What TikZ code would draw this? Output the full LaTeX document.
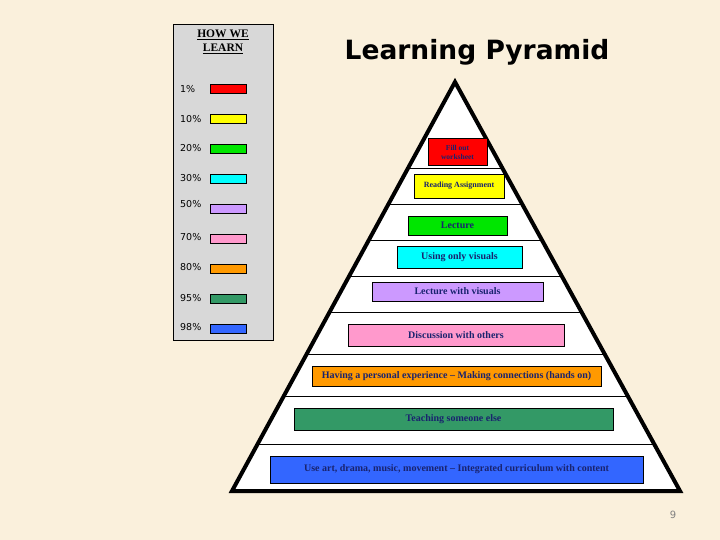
\documentclass[tikz,border=0pt]{standalone}
\usepackage{fontspec}
\setmainfont{Liberation Serif}
\newfontfamily\sansf{DejaVu Sans}
\usetikzlibrary{calc}
\definecolor{bg}{RGB}{250,240,220}
\definecolor{leggray}{RGB}{216,216,216}
\definecolor{txtblue}{RGB}{25,35,110}
\definecolor{cred}{RGB}{255,0,0}
\definecolor{cyellow}{RGB}{255,255,0}
\definecolor{cgreen}{RGB}{0,230,0}
\definecolor{ccyan}{RGB}{0,255,255}
\definecolor{clav}{RGB}{204,153,255}
\definecolor{cpink}{RGB}{255,153,204}
\definecolor{corange}{RGB}{255,153,0}
\definecolor{cteal}{RGB}{51,153,102}
\definecolor{cblue}{RGB}{51,102,255}
\begin{document}
\begin{tikzpicture}[x=1pt,y=-1pt,
  lvl/.style={draw=black, line width=0.8pt, inner sep=0pt, font=\bfseries\fontsize{10}{11}\selectfont, text=txtblue},
  sw/.style={draw=black, line width=0.6pt, minimum width=36pt, minimum height=9pt, inner sep=0pt},
  pct/.style={anchor=west, font=\sansf\fontsize{9.5}{10}\selectfont, inner sep=0pt},
  sep/.style={line width=0.8pt}]
\fill[bg] (0,0) rectangle (720,540);
\useasboundingbox (0,0) rectangle (720,540);

% legend
\node[draw=black, fill=leggray, line width=0.8pt, minimum width=100pt, minimum height=316pt, inner sep=0pt] (legend) at (223,182) {};
\node[font=\bfseries\fontsize{11.5}{14}\selectfont, align=center, inner sep=0pt] (legtitle) at (223,42) {\underline{HOW WE}\\\underline{LEARN}};
\foreach \n/\ty/\sy/\lab/\col in {1/89/88.5/1\%/cred, 2/119/118.5/10\%/cyellow, 3/148/148.5/20\%/cgreen, 4/178/178.5/30\%/ccyan, 5/204/208.5/50\%/clav, 6/237/238.5/70\%/cpink, 7/267/268.5/80\%/corange, 8/298/298.5/95\%/cteal, 9/327/328.5/98\%/cblue}{
  \node[pct] (p\n) at (180,\ty) {\lab};
  \node[sw, fill=\col] (s\n) at (228.5,\sy) {};
}

% title
\node[font=\sansf\bfseries\fontsize{26.5}{30}\selectfont, inner sep=0pt] (title) at (477,52) {Learning Pyramid};

% pyramid
\coordinate (A) at (455,82);
\coordinate (BL) at (232,491);
\coordinate (BR) at (680,491);
\fill[white] (A) -- (BL) -- (BR) -- cycle;
\foreach \y/\n in {168/1, 204/2, 240/3, 276/4, 312/5, 354/6, 396/7, 444/8}{
  \pgfmathsetmacro{\t}{(\y-82)/409}
  \coordinate (sl\n) at ($(A)!\t!(BL)$);
  \coordinate (sr\n) at ($(A)!\t!(BR)$);
  \draw[sep] (sl\n) -- (sr\n);
}
\draw[line width=4pt, line join=miter] (A) -- (BL) -- (BR) -- cycle;

% levels
\node[lvl, fill=cred, minimum width=59pt, minimum height=27pt, align=center, font=\bfseries\fontsize{7.5}{9}\selectfont] (b1) at (457.5,152) {Fill out\\worksheet};
\node[lvl, fill=cyellow, minimum width=90pt, minimum height=24pt, font=\bfseries\fontsize{8}{9}\selectfont] (b2) at (459,186) {Reading Assignment};
\node[lvl, fill=cgreen, minimum width=99pt, minimum height=19pt] (b3) at (457.5,225.5) {Lecture};
\node[lvl, fill=ccyan, minimum width=125pt, minimum height=22pt] (b4) at (459.5,257) {Using only visuals};
\node[lvl, fill=clav, minimum width=171pt, minimum height=19pt] (b5) at (457.5,291.5) {Lecture with visuals};
\node[lvl, fill=cpink, minimum width=216pt, minimum height=22pt] (b6) at (456,335) {Discussion with others};
\node[lvl, fill=corange, minimum width=289pt, minimum height=20pt] (b7) at (456.5,376) {Having a personal experience -- Making connections (hands on)};
\node[lvl, fill=cteal, minimum width=319pt, minimum height=22pt] (b8) at (453.5,419) {Teaching someone else};
\node[lvl, fill=cblue, minimum width=373pt, minimum height=27pt] (b9) at (456.5,469.5) {Use art, drama, music, movement -- Integrated curriculum with content};

% page number
\node[font=\sansf\fontsize{10}{11}\selectfont, text=gray, inner sep=0pt] (pg) at (673,515) {9};
\end{tikzpicture}
\end{document}
